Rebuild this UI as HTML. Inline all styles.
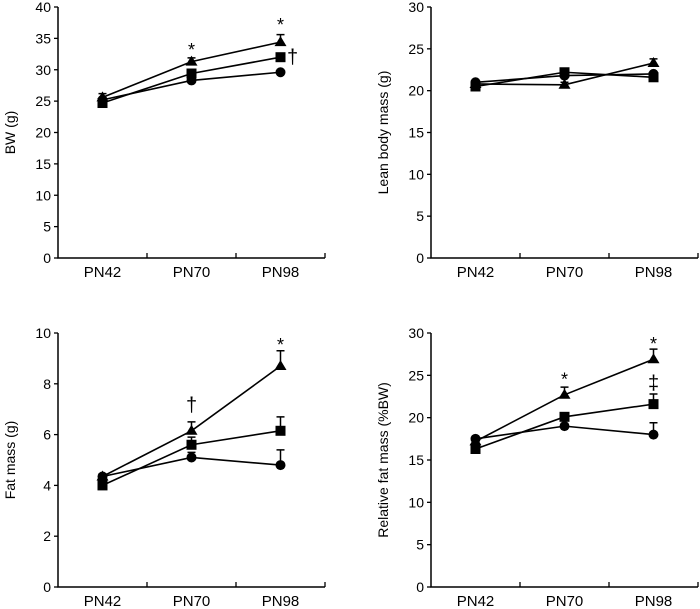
<!DOCTYPE html>
<html><head><meta charset="utf-8"><style>
html,body{margin:0;padding:0;background:#fff;}
svg{display:block;font-family:"Liberation Sans",Arial,sans-serif;}
</style></head><body>
<svg id="c" width="700" height="609"></svg>
<script>
const categories = ["PN42","PN70","PN98"];
const bwCircle = [25.2, 28.3, 29.6];
const bwSquare = [24.7, 29.4, 32.0];
const bwTriangle = [25.6, 31.3, 34.4];
const bwErrTriangle = [0.6, 0.6, 1.2];
const leanCircle = [21.0, 21.8, 22.0];
const leanSquare = [20.5, 22.2, 21.6];
const leanTriangle = [20.8, 20.7, 23.3];
const leanErrTriangle = [0.3, 0.3, 0.5];
const fatCircle = [4.35, 5.1, 4.8];
const fatSquare = [4.0, 5.6, 6.15];
const fatTriangle = [4.35, 6.15, 8.7];
const fatErrCircle = [0.1, 0.2, 0.6];
const fatErrSquare = [0.1, 0.3, 0.55];
const fatErrTriangle = [0.1, 0.35, 0.6];
const relCircle = [17.5, 19.0, 18.0];
const relSquare = [16.3, 20.1, 21.6];
const relTriangle = [17.2, 22.7, 26.9];
const relErrCircle = [0.2, 0.3, 1.4];
const relErrSquare = [0.2, 0.3, 1.2];
const relErrTriangle = [0.2, 0.9, 1.2];
const ticksBW = [0,5,10,15,20,25,30,35,40];
const ticksLean = [0,5,10,15,20,25,30];
const ticksFat = [0,2,4,6,8,10];
const ticksRel = [0,5,10,15,20,25,30];

const NS="http://www.w3.org/2000/svg";
const svg=document.getElementById('c');
function mk(t,a,p){const e=document.createElementNS(NS,t);for(const k in a)e.setAttribute(k,a[k]);(p||svg).appendChild(e);return e;}

function panel(name,x0,y0,y1,ymax,ticks,title,series,annots){
  const g=mk('g',{});
  
  
  const w=267, bw=w/3;
  const ys=v=>y1-(v/ymax)*(y1-y0);
  const xs=i=>x0+bw*(i+0.5);
  const ax=mk('path',{d:`M${x0},${y0}V${y1}H${x0+w}`,stroke:'#000','stroke-width':1.5,fill:'none'},g);
  
  ticks.forEach(t=>{
    mk('line',{x1:x0-4,x2:x0,y1:ys(t),y2:ys(t),stroke:'#000','stroke-width':1.3},g);
    const tx=mk('text',{x:x0-7,y:ys(t)+5,'text-anchor':'end','font-size':14},g);
    tx.textContent=t;
    
  });
  for(let i=1;i<=3;i++) mk('line',{x1:x0+bw*i,x2:x0+bw*i,y1:y1,y2:y1-5,stroke:'#000','stroke-width':1.3},g);
  categories.forEach((c,i)=>{
    const tx=mk('text',{x:xs(i),y:y1+19,'text-anchor':'middle','font-size':15},g);
    tx.textContent=c;
    
  });
  const yl=mk('text',{x:0,y:0,'text-anchor':'middle','font-size':14,transform:`translate(${x0-43},${(y0+y1)/2}) rotate(-90)`},g);
  yl.textContent=title;
  
  series.forEach(s=>{
    if(s.err) s.vals.forEach((v,i)=>{
      const yt=ys(v+s.err[i]);
      mk('path',{d:`M${xs(i)},${ys(v)}V${yt}M${xs(i)-4},${yt}H${xs(i)+4}`,stroke:'#000','stroke-width':1.5},g);
    });
    const pl=mk('polyline',{points:s.vals.map((v,i)=>xs(i)+','+ys(v)).join(' '),fill:'none',stroke:'#000','stroke-width':1.6},g);
    
    s.vals.forEach((v,i)=>{
      const x=xs(i),y=ys(v);let m;
      if(s.shape==='circle') m=mk('circle',{cx:x,cy:y,r:5,fill:'#000'},g);
      else if(s.shape==='square') m=mk('rect',{x:x-5,y:y-5,width:10,height:10,fill:'#000'},g);
      else m=mk('path',{d:`M${x},${y-6}L${x+6},${y+4}L${x-6},${y+4}Z`,fill:'#000'},g);
      
    });
  });
  annots.forEach(a=>{
    const tx=mk('text',{x:xs(a.i)+(a.dx||0),y:ys(a.v),'text-anchor':'middle','font-size':a.s||18},g);
    tx.textContent=a.t;
    
  });
}
panel('bw-panel',58,7,258,40,ticksBW,'BW (g)',[
 {name:'circle',shape:'circle',vals:bwCircle},
 {name:'square',shape:'square',vals:bwSquare},
 {name:'triangle',shape:'triangle',vals:bwTriangle,err:bwErrTriangle}],
 [{i:1,v:32.2,t:'*'},{i:2,v:36.2,t:'*'},{i:2,v:31.0,t:'†',dx:12,s:20}]);
panel('lean-panel',431,7,258,30,ticksLean,'Lean body mass (g)',[
 {name:'circle',shape:'circle',vals:leanCircle},
 {name:'square',shape:'square',vals:leanSquare},
 {name:'triangle',shape:'triangle',vals:leanTriangle,err:leanErrTriangle}],[]);
panel('fat-panel',58,333,587,10,ticksFat,'Fat mass (g)',[
 {name:'circle',shape:'circle',vals:fatCircle,err:fatErrCircle},
 {name:'square',shape:'square',vals:fatSquare,err:fatErrSquare},
 {name:'triangle',shape:'triangle',vals:fatTriangle,err:fatErrTriangle}],
 [{i:1,v:6.9,t:'†',s:20},{i:2,v:9.3,t:'*'}]);
panel('relative-fat-panel',431,333,587,30,ticksRel,'Relative fat mass (%BW)',[
 {name:'circle',shape:'circle',vals:relCircle,err:relErrCircle},
 {name:'square',shape:'square',vals:relSquare,err:relErrSquare},
 {name:'triangle',shape:'triangle',vals:relTriangle,err:relErrTriangle}],
 [{i:1,v:23.8,t:'*'},{i:2,v:28.0,t:'*'},{i:2,v:23.3,t:'‡',s:20}]);
</script>
</body></html>
